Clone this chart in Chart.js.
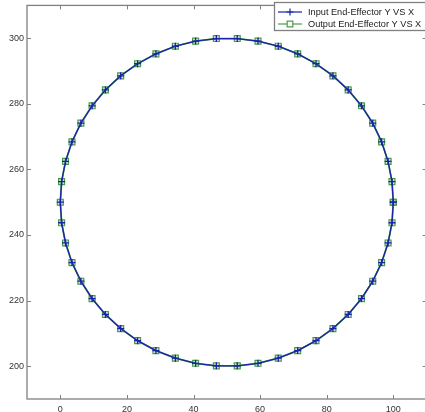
<!DOCTYPE html>
<html><head><meta charset="utf-8">
<script src="https://cdn.jsdelivr.net/npm/chart.js@4.4.0/dist/chart.umd.min.js"></script>
<style>
html,body{margin:0;padding:0;background:#fff;overflow:hidden;}
#wrap{width:432px;height:412px;position:relative;}
</style></head><body>
<div id="wrap"><canvas id="c" width="432" height="412"></canvas></div>
<script>
const seriesNames = ['Input End-Effector Y VS X', 'Output End-Effector Y VS X'];
const xTickLabels = [0, 20, 40, 60, 80, 100];
const yTickLabels = [200, 220, 240, 260, 280, 300];
const inputX = [100,99.61,98.43,96.49,93.82,90.45,86.45,81.87,76.79,71.29,65.45,59.37,53.14,46.86,40.63,34.55,28.71,23.21,18.13,13.55,9.55,6.18,3.51,1.57,0.39,0,0.39,1.57,3.51,6.18,9.55,13.55,18.13,23.21,28.71,34.55,40.63,46.86,53.14,59.37,65.45,71.29,76.79,81.87,86.45,90.45,93.82,96.49,98.43,99.61,100];
const inputY = [250,256.27,262.43,268.41,274.09,279.39,284.23,288.53,292.22,295.24,297.55,299.11,299.9,299.9,299.11,297.55,295.24,292.22,288.53,284.23,279.39,274.09,268.41,262.43,256.27,250,243.73,237.57,231.59,225.91,220.61,215.77,211.47,207.78,204.76,202.45,200.89,200.1,200.1,200.89,202.45,204.76,207.78,211.47,215.77,220.61,225.91,231.59,237.57,243.73,250];
const outputX = [100,99.61,98.43,96.49,93.82,90.45,86.45,81.87,76.79,71.29,65.45,59.37,53.14,46.86,40.63,34.55,28.71,23.21,18.13,13.55,9.55,6.18,3.51,1.57,0.39,0,0.39,1.57,3.51,6.18,9.55,13.55,18.13,23.21,28.71,34.55,40.63,46.86,53.14,59.37,65.45,71.29,76.79,81.87,86.45,90.45,93.82,96.49,98.43,99.61,100];
const outputY = [250,256.27,262.43,268.41,274.09,279.39,284.23,288.53,292.22,295.24,297.55,299.11,299.9,299.9,299.11,297.55,295.24,292.22,288.53,284.23,279.39,274.09,268.41,262.43,256.27,250,243.73,237.57,231.59,225.91,220.61,215.77,211.47,207.78,204.76,202.45,200.89,200.1,200.1,200.89,202.45,204.76,207.78,211.47,215.77,220.61,225.91,231.59,237.57,243.73,250];

const BLUE = '#1a22a8';
const GREEN = '#4a9e4a';
const AXIS = '#808080';
const FONT = '"Liberation Sans", Arial, sans-serif';

const toPts = (xs, ys) => xs.map((x, i) => ({x: x, y: ys[i]}));

const framePlugin = {
  id: 'frame',
  afterDatasetsDraw(chart) {
    const ctx = chart.ctx, a = chart.chartArea;
    const xs = chart.scales.x, ys = chart.scales.y;
    ctx.save();
    ctx.strokeStyle = AXIS;
    ctx.lineWidth = 1.3;
    ctx.strokeRect(a.left, a.top, a.right - a.left, a.bottom - a.top);
    ctx.lineWidth = 1;
    const L = 4;
    xTickLabels.forEach(v => {
      const px = Math.round(xs.getPixelForValue(v)) + 0.5;
      ctx.beginPath();
      ctx.moveTo(px, a.bottom); ctx.lineTo(px, a.bottom - L);
      ctx.moveTo(px, a.top); ctx.lineTo(px, a.top + L);
      ctx.stroke();
    });
    yTickLabels.forEach(v => {
      const py = Math.round(ys.getPixelForValue(v)) + 0.5;
      ctx.beginPath();
      ctx.moveTo(a.left, py); ctx.lineTo(a.left + L, py);
      ctx.moveTo(a.right, py); ctx.lineTo(a.right - L, py);
      ctx.stroke();
    });
    // legend
    const bx = 274, by = 2, bw = 160, bh = 28;
    ctx.fillStyle = '#fff';
    ctx.fillRect(bx, by, bw, bh);
    ctx.strokeStyle = AXIS;
    ctx.lineWidth = 1.3;
    ctx.strokeRect(bx + 0.5, by + 0.5, bw, bh);
    const rows = [
      {name: seriesNames[0], color: BLUE, style: 'cross', r: 3.5, y: 12},
      {name: seriesNames[1], color: GREEN, style: 'rect', r: 4, y: 24}
    ];
    rows.forEach(r => {
      ctx.strokeStyle = r.color;
      ctx.lineWidth = 1.2;
      ctx.beginPath();
      ctx.moveTo(278, r.y); ctx.lineTo(302, r.y);
      ctx.stroke();
      ctx.fillStyle = '#fff';
      Chart.helpers.drawPoint(ctx, {pointStyle: r.style, radius: r.r, borderWidth: 1.2, rotation: 0}, 290, r.y);
      ctx.fillStyle = '#1a1a1a';
      ctx.font = '9.2px ' + FONT;
      ctx.textBaseline = 'middle';
      ctx.textAlign = 'left';
      ctx.fillText(r.name, 308, r.y + 0.5);
    });
    ctx.restore();
  }
};

new Chart(document.getElementById('c'), {
  type: 'scatter',
  data: {
    datasets: [
      {
        label: seriesNames[0],
        data: toPts(inputX, inputY),
        showLine: true,
        borderColor: BLUE,
        backgroundColor: 'rgba(0,0,0,0)',
        borderWidth: 1.3,
        pointStyle: 'cross',
        pointRadius: 3.5,
        pointBorderWidth: 1.3,
        pointBorderColor: BLUE,
        tension: 0
      },
      {
        label: seriesNames[1],
        data: toPts(outputX, outputY),
        showLine: true,
        borderColor: GREEN,
        backgroundColor: 'rgba(0,0,0,0)',
        borderWidth: 1.8,
        pointStyle: 'rect',
        pointRadius: 4.2,
        pointBorderWidth: 1.2,
        pointBorderColor: GREEN,
        pointBackgroundColor: 'rgba(120,160,170,0.3)',
        tension: 0
      }
    ]
  },
  options: {
    responsive: false,
    animation: false,
    events: [],
    layout: {padding: {top: 4, right: 4, left: 0, bottom: 0}},
    plugins: {legend: {display: false}, tooltip: {enabled: false}},
    scales: {
      x: {
        type: 'linear', min: -10, max: 110,
        grid: {display: false, drawTicks: false}, border: {display: false},
        afterBuildTicks: s => { s.ticks = xTickLabels.map(v => ({value: v})); },
        afterFit: s => { s.height = 13; s.paddingLeft = 0; s.paddingRight = 0; },
        ticks: {padding: 5, color: '#333', font: {size: 9, family: FONT}, maxRotation: 0, autoSkip: false}
      },
      y: {
        type: 'linear', min: 190, max: 310,
        grid: {display: false, drawTicks: false}, border: {display: false},
        afterBuildTicks: s => { s.ticks = yTickLabels.map(v => ({value: v})); },
        afterFit: s => { s.width = 27; s.paddingTop = 0; s.paddingBottom = 0; },
        ticks: {padding: 3, color: '#333', font: {size: 9, family: FONT}, autoSkip: false}
      }
    }
  },
  plugins: [framePlugin]
});
</script>
</body></html>
